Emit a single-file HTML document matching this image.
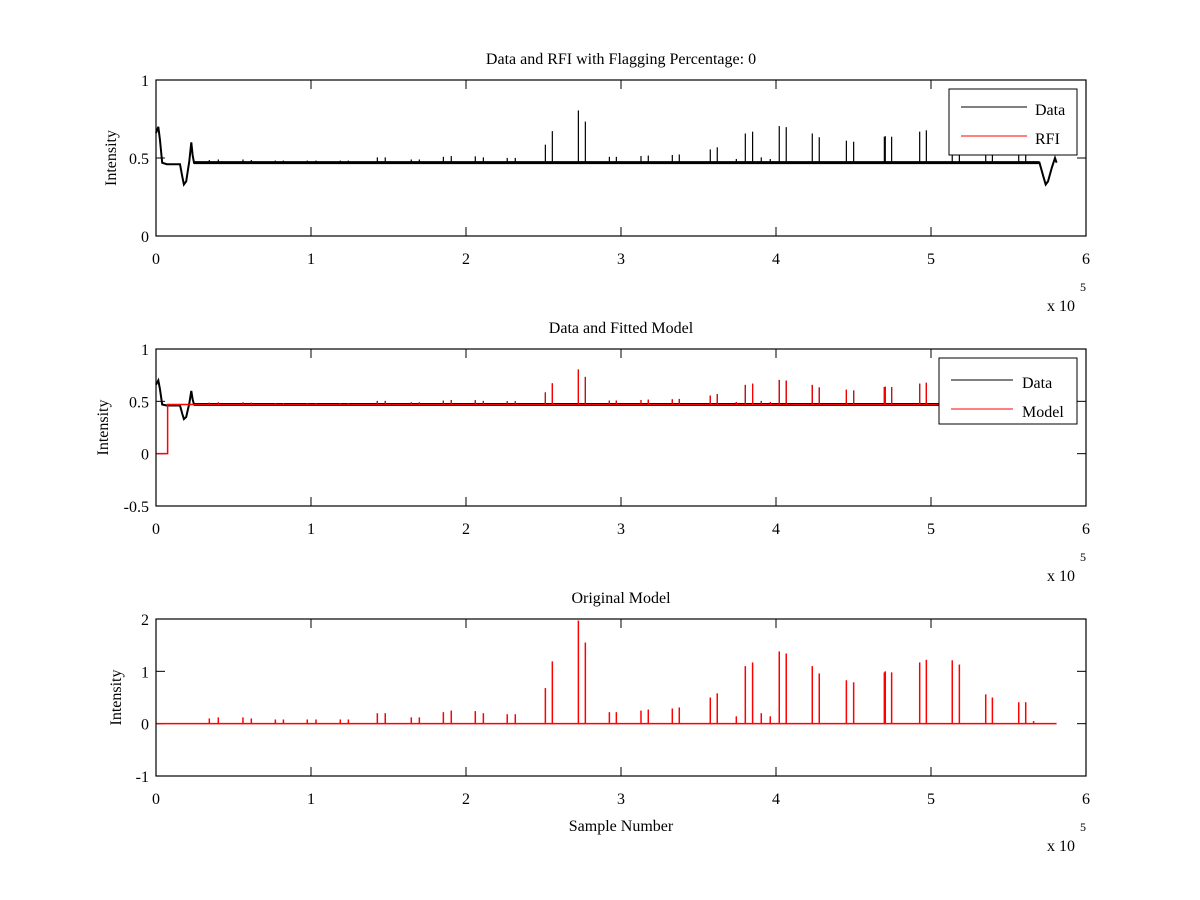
<!DOCTYPE html>
<html><head><meta charset="utf-8">
<style>
html,body{margin:0;padding:0;background:#fff;}
svg{display:block;font-family:"Liberation Serif",serif;}
text{font-size:16px;fill:#000;}
</style></head>
<body>
<svg id="fig" width="1200" height="900" viewBox="0 0 1200 900" xmlns="http://www.w3.org/2000/svg"></svg>
<script>
// Spike sample positions (samples) and original model amplitudes
const spikeSamples = [34400,40200,56100,61500,77000,82200,97600,103200,118900,124100,142800,147900,164700,169900,185400,190500,206000,211200,226600,231800,251200,255700,272500,277000,292500,297000,312900,317600,333100,337600,357600,362100,374400,380200,384900,390500,396300,402100,406600,423400,427900,445400,450100,469900,470500,474600,492700,497000,513700,518300,535300,539600,556600,561100,566200];
const spikeModel   = [0.10,0.12,0.12,0.10,0.08,0.08,0.08,0.08,0.08,0.08,0.20,0.20,0.12,0.12,0.22,0.25,0.24,0.20,0.18,0.18,0.68,1.19,1.97,1.55,0.22,0.22,0.25,0.27,0.29,0.31,0.50,0.58,0.14,1.10,1.17,0.20,0.14,1.38,1.34,1.10,0.96,0.83,0.79,0.98,1.00,0.98,1.17,1.22,1.21,1.13,0.56,0.50,0.41,0.41,0.05];
// Data baseline trace key points (sample, intensity)
const dataSamples = [0,1500,2500,4000,7000,15500,17000,18000,19500,21500,22800,23600,24500,570000,572500,574000,575500,578000,580000,581000];
const dataValues  = [0.66,0.70,0.62,0.47,0.46,0.46,0.38,0.33,0.35,0.48,0.60,0.52,0.47,0.47,0.38,0.33,0.35,0.44,0.50,0.47];
const baseLevel = 0.47;
const spikeScale = 0.17;
const modelStart = 7500, modelEnd = 581000;
const xTicks = [0,1,2,3,4,5,6];
const yTicks1 = [0,0.5,1], yTicks2 = [-0.5,0,0.5,1], yTicks3 = [-1,0,1,2];

const svg = document.getElementById('fig');
const NS = 'http://www.w3.org/2000/svg';
function el(tag, attrs, parent){const e=document.createElementNS(NS,tag);for(const k in attrs)e.setAttribute(k,attrs[k]);(parent||svg).appendChild(e);return e;}
const X0=156,X1=1086;
const sx = s => X0 + s/600000*(X1-X0);

function axes(name, top, bottom, ymin, ymax, yticks, title, titleY, ylabX, xlabel){
  const g = el('g',{});
  
  
  const sy = v => bottom - (v-ymin)/(ymax-ymin)*(bottom-top);
  el('rect',{x:X0,y:top,width:X1-X0,height:bottom-top,fill:'#fff',stroke:'none'},g);
  const t = el('text',{x:621,y:titleY,'text-anchor':'middle'},g); t.textContent=title;
   
  xTicks.forEach(v=>{const x=sx(v*100000);
    el('line',{x1:x,y1:bottom,x2:x,y2:bottom-9,stroke:'#000'},g);
    el('line',{x1:x,y1:top,x2:x,y2:top+9,stroke:'#000'},g);
    const tl=el('text',{x:x,y:bottom+28,'text-anchor':'middle'},g); tl.textContent=v;
     
  });
  yticks.forEach(v=>{const y=sy(v);
    el('line',{x1:X0,y1:y,x2:X0+9,y2:y,stroke:'#000'},g);
    el('line',{x1:X1,y1:y,x2:X1-9,y2:y,stroke:'#000'},g);
    const tl=el('text',{x:149,y:y+6,'text-anchor':'end'},g); tl.textContent=v;
     
  });
  const yl=el('text',{x:ylabX,y:(top+bottom)/2,'text-anchor':'middle',transform:`rotate(-90 ${ylabX} ${(top+bottom)/2})`},g);
  yl.textContent='Intensity';
   
  const m1=el('text',{x:1047,y:bottom+75},g); m1.textContent='x 10';
   
  const m2=el('text',{x:1080,y:bottom+55,style:'font-size:12px'},g); m2.textContent='5';
  if(xlabel){const xl=el('text',{x:621,y:bottom+55,'text-anchor':'middle'},g); xl.textContent=xlabel;
     }
  return {g,sy,top,bottom};
}

function drawData(ax){
  const sy=ax.sy;
  let d='M'+dataSamples.map((s,i)=>sx(s).toFixed(1)+' '+sy(dataValues[i]).toFixed(1)).join(' L');
  const p=el('path',{d:d,fill:'none',stroke:'#000','stroke-width':2},ax.g);
   
  const b=el('line',{x1:sx(24500),y1:sy(baseLevel),x2:sx(570000),y2:sy(baseLevel),stroke:'#000','stroke-width':3},ax.g);
   
  spikeSamples.forEach((s,i)=>{
    const l=el('line',{x1:sx(s),y1:sy(baseLevel),x2:sx(s),y2:sy(baseLevel+spikeScale*spikeModel[i]),stroke:'#000','stroke-width':1.2},ax.g);
     
  });
}
function drawFitted(ax){
  const sy=ax.sy;
  const p=el('path',{d:`M${sx(0)} ${sy(0)} L${sx(modelStart)} ${sy(0)} L${sx(modelStart)} ${sy(baseLevel)} L${sx(modelEnd)} ${sy(baseLevel)}`,fill:'none',stroke:'#f00','stroke-width':1.5},ax.g);
   
  spikeSamples.forEach((s,i)=>{
    const l=el('line',{x1:sx(s),y1:sy(baseLevel),x2:sx(s),y2:sy(baseLevel+spikeScale*spikeModel[i]),stroke:'#f00','stroke-width':1.2},ax.g);
     
  });
}
function drawOriginal(ax){
  const sy=ax.sy;
  const p=el('line',{x1:sx(0),y1:sy(0),x2:sx(modelEnd),y2:sy(0),stroke:'#f00','stroke-width':1.5},ax.g);
   
  spikeSamples.forEach((s,i)=>{
    const l=el('line',{x1:sx(s),y1:sy(0),x2:sx(s),y2:sy(spikeModel[i]),stroke:'#f00','stroke-width':1.5},ax.g);
     
  });
}
function frame(ax){el('rect',{x:X0,y:ax.top,width:X1-X0,height:ax.bottom-ax.top,fill:'none',stroke:'#000','stroke-width':1.2},ax.g);}
function legend(ax,x,y,w,h,lx1,lx2,tx,off,items){
  const g=el('g',{},ax.g);
   
  el('rect',{x:x,y:y,width:w,height:h,fill:'#fff',stroke:'#000'},g);
  items.forEach((it,i)=>{const yy=y+off+i*29;
    el('line',{x1:lx1,y1:yy,x2:lx2,y2:yy,stroke:it[1]},g);
    const t=el('text',{x:tx,y:yy+8},g); t.textContent=it[0];
     
  });
}

const a1=axes('data-rfi-plot',80,236,0,1,yTicks1,'Data and RFI with Flagging Percentage: 0',64,116,null);
drawData(a1); frame(a1);
legend(a1,949,89,128,66,961,1027,1035,18,[['Data','#000'],['RFI','#f00']]);

const a2=axes('fitted-model-plot',349,506,-0.5,1,yTicks2,'Data and Fitted Model',333,108,null);
drawData(a2); drawFitted(a2); frame(a2);
legend(a2,939,358,138,66,951,1013,1022,22,[['Data','#000'],['Model','#f00']]);

const a3=axes('original-model-plot',619,776,-1,2,yTicks3,'Original Model',603,121,'Sample Number');
drawOriginal(a3); frame(a3);
</script>
</body></html>
